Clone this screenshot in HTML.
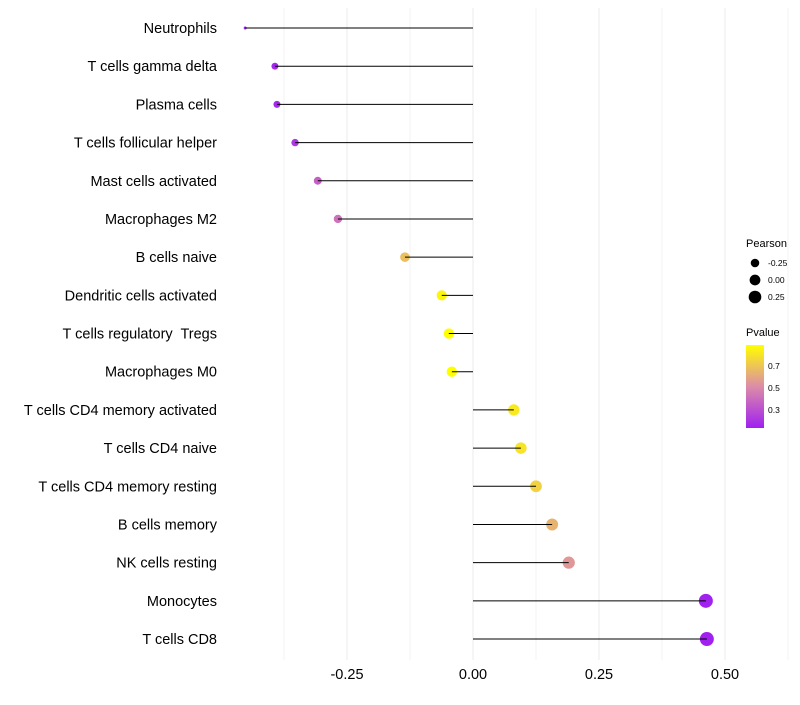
<!DOCTYPE html>
<html><head><meta charset="utf-8"><style>
body{margin:0;background:#fff;font-family:"Liberation Sans",Arial,sans-serif}
text{white-space:pre}
</style></head><body>
<svg id="chart" width="800" height="700" xmlns="http://www.w3.org/2000/svg">
<defs><linearGradient id="pgrad" x1="0" y1="1" x2="0" y2="0">
<stop offset="0" stop-color="#a020f0"/><stop offset="0.5" stop-color="#dc8ca8"/><stop offset="1" stop-color="#ffff00"/>
</linearGradient></defs>
<g id="grid"></g><g id="marks"></g><g id="labels"></g><g id="legend"></g>
</svg>
<script>
const categories=["Neutrophils","T cells gamma delta","Plasma cells","T cells follicular helper","Mast cells activated","Macrophages M2","B cells naive","Dendritic cells activated","T cells regulatory  Tregs","Macrophages M0","T cells CD4 memory activated","T cells CD4 naive","T cells CD4 memory resting","B cells memory","NK cells resting","Monocytes","T cells CD8"];
const pearson=[-0.452,-0.393,-0.389,-0.353,-0.308,-0.268,-0.135,-0.062,-0.048,-0.042,0.081,0.095,0.125,0.157,0.19,0.462,0.464];
const pvalue=[0.12,0.16,0.16,0.22,0.36,0.42,0.68,0.86,0.89,0.9,0.82,0.8,0.74,0.64,0.55,0.14,0.13];
const xTicks=[-0.25,0,0.25,0.5];
const xTickLabels=["-0.25","0.00","0.25","0.50"];
const pTicks=[0.3,0.5,0.7];
const sizeTicks=[-0.25,0,0.25];
const NS="http://www.w3.org/2000/svg";
const X=v=>473+v*504;
const Y=i=>28+i*38.19;
const pmin=0.136,pmax=0.89;
const rmin=Math.min(...pearson);
const R=v=>{const q=29+43.2*v;return Math.max(1.5,Math.min(Math.sqrt(Math.max(q,0)),1.5+(v-rmin)*40));};
function hex(h){return [1,3,5].map(k=>parseInt(h.substr(k,2),16));}
const cs=[hex("#a020f0"),hex("#dc8ca8"),hex("#ffff00")];
function col(p){let t=Math.max(0,Math.min(1,(p-pmin)/(pmax-pmin)));let a,b,u;if(t<0.5){a=cs[0];b=cs[1];u=t*2}else{a=cs[1];b=cs[2];u=(t-0.5)*2}
return "rgb("+a.map((c,k)=>Math.round(c+(b[k]-c)*u)).join(",")+")";}
function mk(tag,attrs,parent,txt){const e=document.createElementNS(NS,tag);for(const k in attrs)e.setAttribute(k,attrs[k]);if(txt!=null)e.textContent=txt;parent.appendChild(e);return e;}
const grid=document.getElementById("grid"),marks=document.getElementById("marks"),labels=document.getElementById("labels"),legend=document.getElementById("legend");
for(let v=-0.375;v<=0.625;v+=0.125){const e=mk("line",{x1:X(v),x2:X(v),y1:8,y2:660,stroke:"#ebebeb","stroke-width":Number.isInteger(v*4)?1:0.6},grid);

}
categories.forEach((c,i)=>{
const t=mk("text",{x:217,y:Y(i)+5,"text-anchor":"end","font-size":14.5,fill:"#000"},labels,c);


const d=mk("circle",{cx:X(pearson[i]),cy:Y(i),r:R(pearson[i]),fill:col(pvalue[i])},marks);


const l=mk("line",{x1:X(0),x2:X(pearson[i]),y1:Y(i),y2:Y(i),stroke:"#000","stroke-width":1},marks);


});
xTicks.forEach((v,i)=>{const t=mk("text",{x:X(v),y:679,"text-anchor":"middle","font-size":14.5,fill:"#000"},labels,xTickLabels[i]);

});
let tt=mk("text",{x:746,y:247,"font-size":11},legend,"Pearson");


sizeTicks.forEach((v,i)=>{const yy=263+i*17;
const c=mk("circle",{cx:755,cy:yy,r:R(v),fill:"#000"},legend);


const t=mk("text",{x:768,y:yy+3,"font-size":8.5},legend,v.toFixed(2));

});
tt=mk("text",{x:746,y:336,"font-size":11},legend,"Pvalue");


const bar=mk("rect",{x:746,y:345,width:18,height:83,fill:"url(#pgrad)"},legend);


pTicks.forEach(p=>{const yy=428-(p-pmin)/(pmax-pmin)*83;
const t=mk("text",{x:768,y:yy+3,"font-size":8.5},legend,p.toFixed(1));

});
</script>
</body></html>
